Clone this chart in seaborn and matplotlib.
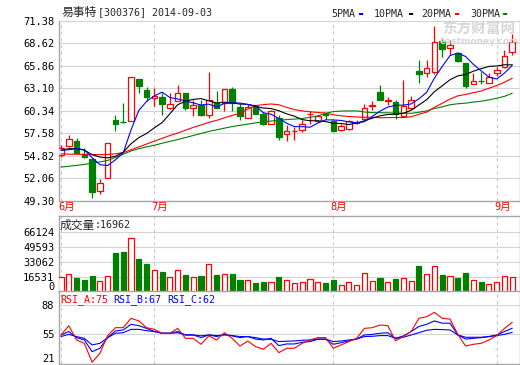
import matplotlib
matplotlib.use("Agg")
import matplotlib.pyplot as plt
import matplotlib.transforms as mtransforms
import numpy as np
import pandas as pd
import seaborn as sns

RED = "#ff0000"
GREEN = "#008000"
BLUE = "#0000ff"
GRID = "#d4d4d4"
FRAME = "#a6a6a6"

# --- data (59 trading days, 2014-06-13 .. 2014-09-03) ---
opens = [54.86, 56.00, 56.67, 55.07, 54.45, 50.46, 52.11, 59.26, 58.95, 59.13,
         64.20, 62.87, 61.85, 62.00, 60.73, 61.50, 62.46, 60.65, 61.10, 59.87,
         61.30, 61.30, 63.00, 60.77, 59.50, 60.90, 59.90, 58.76, 59.45, 57.48,
         57.80, 57.94, 59.90, 59.08, 59.88, 59.08, 58.02, 58.15, 58.85, 59.38,
         60.90, 62.62, 61.55, 61.43, 59.70, 60.73, 65.20, 65.00, 65.05, 68.94,
         68.00, 67.39, 66.15, 63.60, 64.00, 63.69, 64.92, 65.74, 67.51]
highs = [56.15, 57.41, 56.95, 55.76, 54.50, 51.90, 56.42, 59.87, 61.35, 64.43,
         64.22, 63.20, 63.15, 62.53, 62.46, 63.48, 62.50, 61.63, 61.70, 65.12,
         62.78, 63.00, 63.20, 61.23, 61.23, 61.00, 60.20, 60.40, 59.80, 58.64,
         58.35, 59.17, 60.28, 59.80, 60.12, 59.26, 58.76, 59.17, 59.17, 61.23,
         61.55, 63.48, 62.04, 61.70, 64.10, 62.13, 66.56, 66.56, 70.75, 69.24,
         69.03, 67.60, 66.20, 65.00, 65.12, 64.92, 65.70, 67.80, 69.77]
lows = [54.65, 55.90, 55.00, 54.55, 49.60, 50.10, 52.11, 57.85, 58.80, 59.10,
        62.58, 61.50, 60.90, 59.87, 60.50, 61.50, 60.40, 59.66, 59.75, 59.50,
        60.70, 60.28, 60.28, 59.26, 59.50, 59.90, 58.55, 58.70, 56.74, 56.58,
        56.80, 57.73, 58.76, 58.90, 59.38, 57.80, 57.85, 58.00, 58.76, 59.30,
        60.49, 61.60, 61.02, 59.38, 59.58, 60.60, 63.69, 64.50, 64.84, 66.97,
        67.18, 66.36, 63.08, 63.60, 63.57, 63.69, 64.60, 65.54, 67.18]
closes = [55.81, 56.90, 55.20, 54.60, 50.35, 51.50, 56.40, 58.70, 58.90, 64.43,
          63.40, 62.00, 62.10, 61.15, 61.14, 62.53, 60.70, 61.00, 59.80, 61.72,
          60.73, 63.00, 61.30, 59.70, 60.80, 59.95, 58.76, 60.32, 57.10, 57.90,
          57.86, 58.76, 59.95, 59.66, 59.85, 57.85, 58.43, 59.08, 58.90, 60.73,
          61.00, 61.72, 61.60, 60.00, 60.87, 61.72, 64.90, 65.54, 68.82, 67.92,
          68.41, 66.48, 63.40, 63.98, 63.97, 64.50, 65.33, 67.06, 68.74]
volume = [16530, 19500, 15430, 13220, 17630, 12120, 17260, 43340, 44080, 59140,
          36370, 30860, 23880, 22040, 16160, 23880, 18370, 16160, 17630, 30490,
          18370, 19500, 19840, 13220, 12860, 9920, 11390, 11390, 16530, 13220,
          9550, 11020, 13960, 11020, 10290, 13220, 7350, 11020, 7350, 20570,
          12120, 15430, 11020, 14330, 15430, 12120, 28650, 19840, 28650, 18730,
          17260, 15430, 20940, 13220, 11020, 8820, 11020, 17260, 16962]

ma5 = [55.47, 55.55, 55.68, 55.55, 54.57, 53.71, 53.61, 54.31, 55.17, 57.99,
       60.37, 61.49, 62.17, 62.62, 61.96, 61.79, 61.53, 61.31, 61.04, 61.15,
       60.79, 61.25, 61.31, 61.29, 61.11, 60.95, 60.10, 59.91, 59.39, 58.81,
       58.39, 58.39, 58.31, 58.83, 59.22, 59.21, 59.15, 58.97, 58.82, 59.00,
       59.63, 60.29, 60.79, 61.01, 61.03, 61.18, 61.81, 62.60, 64.37, 65.78,
       67.12, 67.43, 67.01, 66.04, 65.25, 64.47, 64.24, 64.97, 65.92]
ma10 = [55.50, 55.68, 55.68, 55.50, 54.95, 54.65, 54.55, 54.75, 55.25, 56.28,
        57.04, 57.55, 58.24, 58.89, 59.97, 61.08, 61.51, 61.74, 61.83, 61.56,
        61.29, 61.39, 61.31, 61.16, 61.13, 60.87, 60.68, 60.61, 60.34, 59.96,
        59.67, 59.25, 59.11, 59.11, 59.01, 58.80, 58.77, 58.64, 58.82, 59.11,
        59.42, 59.72, 59.88, 59.92, 60.02, 60.40, 61.05, 61.70, 62.69, 63.41,
        64.15, 64.62, 64.80, 65.20, 65.51, 65.79, 65.84, 65.99, 65.98]
ma20 = [55.05, 55.00, 55.00, 54.98, 54.95, 54.95, 54.97, 55.05, 55.20, 55.55,
        55.90, 56.25, 56.60, 56.95, 57.30, 57.60, 57.95, 58.30, 58.60, 58.92,
        59.16, 59.47, 59.77, 60.03, 60.55, 60.97, 61.09, 61.17, 61.08, 60.76,
        60.48, 60.32, 60.21, 60.13, 60.07, 59.84, 59.72, 59.63, 59.58, 59.53,
        59.55, 59.48, 59.50, 59.51, 59.51, 59.60, 59.91, 60.17, 60.76, 61.26,
        61.78, 62.17, 62.34, 62.56, 62.77, 63.10, 63.44, 63.84, 64.33]
ma30 = [53.42, 53.52, 53.63, 53.75, 53.90, 54.05, 54.24, 54.60, 55.00, 55.40,
        55.68, 55.90, 56.10, 56.35, 56.58, 56.80, 57.05, 57.30, 57.55, 57.80,
        58.00, 58.20, 58.40, 58.55, 58.70, 58.85, 58.97, 59.08, 59.17, 59.25,
        59.32, 59.38, 59.54, 59.71, 60.02, 60.24, 60.30, 60.32, 60.32, 60.19,
        60.11, 60.10, 60.09, 60.05, 60.05, 60.02, 60.16, 60.32, 60.62, 60.82,
        61.08, 61.20, 61.27, 61.41, 61.51, 61.67, 61.88, 62.11, 62.50]

rsi_a = [54.0, 64.5, 48.3, 44.5, 23.0, 33.1, 53.3, 62.3, 62.3, 72.9,
         70.0, 62.3, 60.4, 55.9, 55.9, 61.5, 50.2, 50.2, 43.4, 53.0,
         48.3, 56.6, 50.2, 41.4, 47.1, 40.8, 37.7, 44.5, 33.9, 38.9,
         38.9, 44.5, 48.3, 51.0, 51.0, 38.9, 42.7, 46.5, 50.2, 61.5,
         62.3, 65.3, 64.6, 47.3, 52.2, 57.9, 72.9, 74.8, 79.7, 72.9,
         72.1, 54.7, 41.4, 43.4, 44.5, 48.3, 53.3, 61.5, 68.4]
rsi_b = [54.0, 57.9, 51.0, 48.3, 35.0, 38.9, 51.0, 58.6, 59.7, 66.1,
         64.6, 61.5, 57.9, 56.0, 56.0, 57.9, 54.0, 54.0, 51.0, 54.0,
         52.2, 54.7, 53.0, 51.0, 52.2, 49.4, 48.3, 50.2, 41.9, 43.8,
         43.8, 45.7, 46.5, 49.1, 49.1, 43.4, 45.3, 47.2, 49.4, 54.0,
         54.7, 55.9, 56.6, 50.2, 52.9, 57.9, 63.6, 66.2, 70.0, 67.4,
         67.4, 54.0, 49.4, 50.2, 51.0, 52.2, 54.0, 57.9, 61.7]
rsi_c = [52.2, 54.7, 52.2, 50.2, 42.7, 44.5, 51.0, 56.0, 56.6, 60.4,
         60.4, 58.9, 57.9, 56.0, 56.0, 56.6, 54.0, 54.0, 53.0, 54.0,
         53.3, 54.0, 53.3, 52.2, 52.2, 51.0, 49.4, 49.1, 46.5, 46.9,
         47.2, 48.0, 48.3, 49.4, 49.4, 46.5, 47.2, 48.3, 49.4, 52.2,
         52.5, 53.3, 53.3, 50.2, 51.4, 54.0, 56.6, 59.3, 60.4, 60.1,
         59.7, 54.0, 51.4, 51.4, 51.4, 52.2, 53.3, 54.7, 57.0]

month_starts = [0, 12, 35, 56]
month_labels = ["6月", "7月", "8月", "9月"]
price_ticks = ["71.38", "68.62", "65.86", "63.10", "60.34", "57.58", "54.82", "52.06", "49.30"]
vol_ticks = [66124, 49593, 33062, 16531, 0]
rsi_ticks = [88, 55, 21]

W, H = 520, 365


def fx(px):
    return px / W


def fy(py):
    return 1 - py / H


def style_axes(ax, sides):
    for name, sp in ax.spines.items():
        sp.set_visible(name in sides)
        sp.set_color(FRAME)
        sp.set_linewidth(1)
    ax.tick_params(axis="y", length=0, pad=3, labelsize=7.5, colors="black")
    ax.tick_params(axis="x", length=0, labelbottom=False)
    ax.grid(False)
    for m in month_starts:
        ax.axvline(m, color="#c8c8c8", lw=0.8, ls=(0, (3, 3)), zorder=0.5)


def main():
    df = pd.DataFrame({"open": opens, "high": highs, "low": lows, "close": closes,
                       "volume": volume, "ma5": ma5, "ma10": ma10, "ma20": ma20,
                       "ma30": ma30, "rsi_a": rsi_a, "rsi_b": rsi_b, "rsi_c": rsi_c})
    df["i"] = np.arange(len(df))
    up = df["close"] >= df["open"]
    edge = np.where(up, RED, GREEN)
    face = np.where(up, "white", GREEN)

    sns.set_theme(style="white")
    plt.rcParams["font.family"] = ["DejaVu Sans Mono", "Noto Sans CJK SC"]

    fig = plt.figure(figsize=(W / 100, H / 100), dpi=100)
    left, width = fx(58.5), fx(461)
    ax_k = fig.add_axes([left, fy(200.6), width, 179.7 / H])
    ax_v = fig.add_axes([left, fy(292), width, 76 / H])
    ax_r = fig.add_axes([left, fy(364), width, 73 / H])
    xlim = (-0.32, 58.93)

    # watermark sits under the candles
    fig.text(fx(478.5), fy(29), "东方财富网", color="#d6d6d6", fontsize=10.5,
             fontweight="bold", ha="center", va="center", family=["Noto Sans CJK SC"])
    fig.text(fx(479), fy(42), "eastmoney.com", color="#d6d6d6", fontsize=6.5,
             fontweight="bold", ha="center", va="center", family=["DejaVu Sans"])
    ax_k.patch.set_alpha(0)

    # --- candles ---
    pt = [float(t) for t in price_ticks]
    for t in pt:
        ax_k.axhline(t, color=GRID, lw=0.8, zorder=0.4)
    style_axes(ax_k, ["left", "bottom", "right"])
    body_lo = np.minimum(df["open"], df["close"])
    body_h = np.maximum((df["close"] - df["open"]).abs(), 0.03)
    ax_k.vlines(df["i"], df["low"], df["high"], colors=edge, lw=0.9, zorder=2)
    ax_k.bar(df["i"], body_h, bottom=body_lo, width=0.72, color=face,
             edgecolor=edge, linewidth=0.9, zorder=3)
    for col, c in [("ma30", GREEN), ("ma20", RED), ("ma10", "black"), ("ma5", BLUE)]:
        sns.lineplot(data=df, x="i", y=col, ax=ax_k, color=c, lw=0.8, zorder=4)
    ax_k.set_xlim(*xlim)
    ax_k.set_ylim(49.30, 71.38)
    ax_k.set_yticks(pt)
    ax_k.set_yticklabels(price_ticks)
    ax_k.set_xlabel("")
    ax_k.set_ylabel("")
    tr = mtransforms.blended_transform_factory(ax_k.transData, ax_k.transAxes)
    for m, lab in zip(month_starts, month_labels):
        ax_k.text(m - 0.35, -0.036, lab, transform=tr, color=RED, fontsize=7.5,
                  ha="left", va="center", family=["DejaVu Sans Mono", "Noto Sans CJK SC"])

    # --- volume ---
    for t in vol_ticks[:-1]:
        ax_v.axhline(t, color=GRID, lw=0.8, zorder=0.4)
    style_axes(ax_v, ["left", "top", "right"])
    ax_v.bar(df["i"], df["volume"], width=0.66, color=face, edgecolor=edge,
             linewidth=0.9, zorder=3)
    ax_v.set_xlim(*xlim)
    ax_v.set_ylim(0, 83750)
    ax_v.set_yticks(vol_ticks)
    ax_v.set_yticklabels([str(t) for t in vol_ticks])
    ax_v.get_yticklabels()[-1].set_va("bottom")
    ax_v.set_xlabel("")
    ax_v.set_ylabel("")

    # --- RSI ---
    for t in rsi_ticks[:-1]:
        ax_r.axhline(t, color=GRID, lw=0.8, zorder=0.4)
    style_axes(ax_r, ["left", "top", "right", "bottom"])
    sns.lineplot(data=df, x="i", y="rsi_c", ax=ax_r, color=BLUE, lw=0.8, zorder=3)
    sns.lineplot(data=df, x="i", y="rsi_b", ax=ax_r, color=BLUE, lw=0.8, zorder=3)
    sns.lineplot(data=df, x="i", y="rsi_a", ax=ax_r, color=RED, lw=0.8, zorder=4)
    ax_r.set_xlim(*xlim)
    ax_r.set_ylim(21, 104)
    ax_r.set_yticks(rsi_ticks)
    ax_r.set_yticklabels([str(t) for t in rsi_ticks])
    ax_r.get_yticklabels()[-1].set_va("bottom")
    ax_r.set_xlabel("")
    ax_r.set_ylabel("")

    # --- header texts ---
    fig.text(fx(61.5), fy(12.5), "易事特", fontsize=8.5, va="center", ha="left",
             family=["Noto Sans CJK SC"])
    fig.text(fx(97.5), fy(12.5), "[300376] 2014-09-03", fontsize=7.2, va="center",
             ha="left")
    legend = [("5PMA", 331, 359, BLUE), ("10PMA", 374, 409, "black"),
              ("20PMA", 421, 455, RED), ("30PMA", 470, 503, GREEN)]
    for name, tx, mx, c in legend:
        fig.text(fx(tx), fy(14.2), name, fontsize=7.2, va="center", ha="left")
        fig.text(fx(mx), fy(14.2), "▬", fontsize=5, color=c, va="center", ha="left")

    fig.text(fx(59.5), fy(225.5), "成交量", fontsize=8.5, va="center", ha="left",
             family=["Noto Sans CJK SC"])
    fig.text(fx(95), fy(225.5), f":{volume[-1]}", fontsize=7.2, va="center", ha="left")

    fig.text(fx(60), fy(300), f"RSI_A:{75}", fontsize=7.2, color=RED, va="center")
    fig.text(fx(113), fy(300), f"RSI_B:{67}", fontsize=7.2, color=BLUE, va="center")
    fig.text(fx(167), fy(300), f"RSI_C:{62}", fontsize=7.2, color=BLUE, va="center")

    fig.savefig("out.png", dpi=100, facecolor="white")


if __name__ == "__main__":
    main()
